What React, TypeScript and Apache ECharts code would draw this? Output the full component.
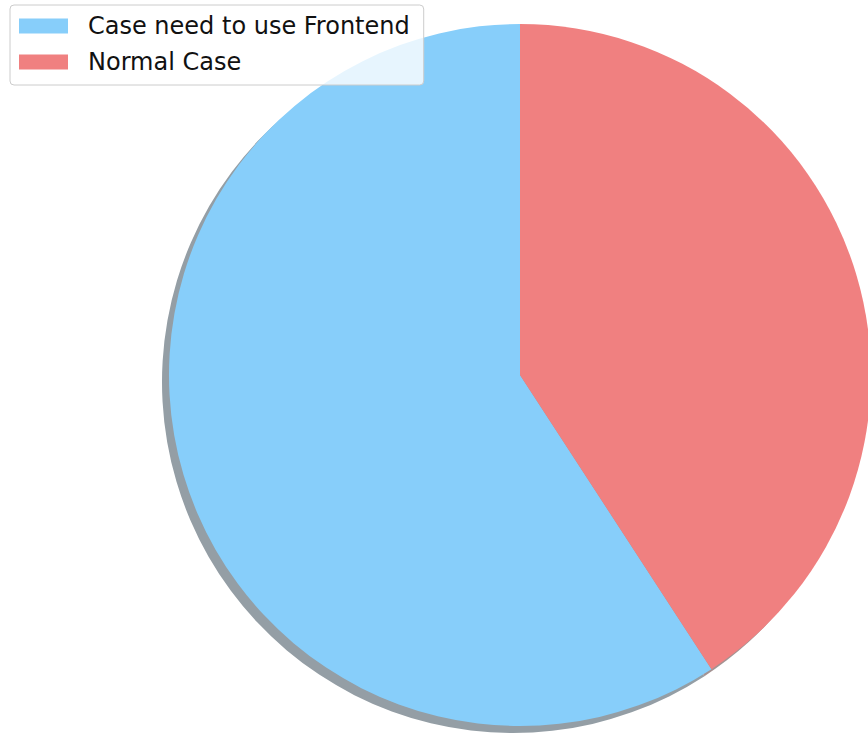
import React, { useEffect, useRef } from "react";
import * as echarts from "echarts";

const categories = ["Case need to use Frontend", "Normal Case"];
const values = [29, 20];
const colors = ["#87CEFA", "#F08080"];
const shadowColors = ["#949ea5", "#a49393"];

export default function App() {
  const ref = useRef<HTMLDivElement>(null);
  useEffect(() => {
    if (!ref.current) return;
    const chart = echarts.init(ref.current, undefined, { renderer: "svg" });
    chart.setOption({
      animation: false,
      backgroundColor: "#ffffff",
      legend: {
        orient: "vertical",
        left: 10,
        top: 5,
        data: categories,
        itemWidth: 49,
        itemHeight: 15,
        itemGap: 12,
        icon: "rect",
        padding: [9, 14, 11, 9],
        borderColor: "#cccccc",
        borderWidth: 1,
        borderRadius: 4,
        backgroundColor: "rgba(255,255,255,0.8)",
        z: 10,
        selectedMode: false,
        textStyle: {
          fontFamily: "DejaVu Sans",
          fontSize: 24,
          lineHeight: 24,
          color: "#111111",
          padding: [0, 0, 0, 15],
        },
      },
      series: [
        {
          type: "pie",
          name: "main",
          center: [520, 375],
          radius: 351,
          startAngle: 90,
          clockwise: false,
          z: 3,
          label: { show: false },
          labelLine: { show: false },
          emphasis: { disabled: true },
          itemStyle: { borderWidth: 0 },
          data: categories.map((c, i) => ({
            name: c,
            value: values[i],
            itemStyle: { color: colors[i] },
          })),
        },
        {
          type: "pie",
          name: "shadow",
          center: [513, 382],
          radius: 351,
          startAngle: 90,
          clockwise: false,
          z: 1,
          silent: true,
          label: { show: false },
          labelLine: { show: false },
          emphasis: { disabled: true },
          itemStyle: { borderWidth: 0 },
          data: categories.map((c, i) => ({
            name: "shadow_" + i,
            value: values[i],
            itemStyle: { color: shadowColors[i] },
          })),
        },
      ],
    });
    return () => chart.dispose();
  }, []);
  return (
    <div
      ref={ref}
      style={{ position: "fixed", left: 0, top: 0, width: 868, height: 745 }}
    />
  );
}
